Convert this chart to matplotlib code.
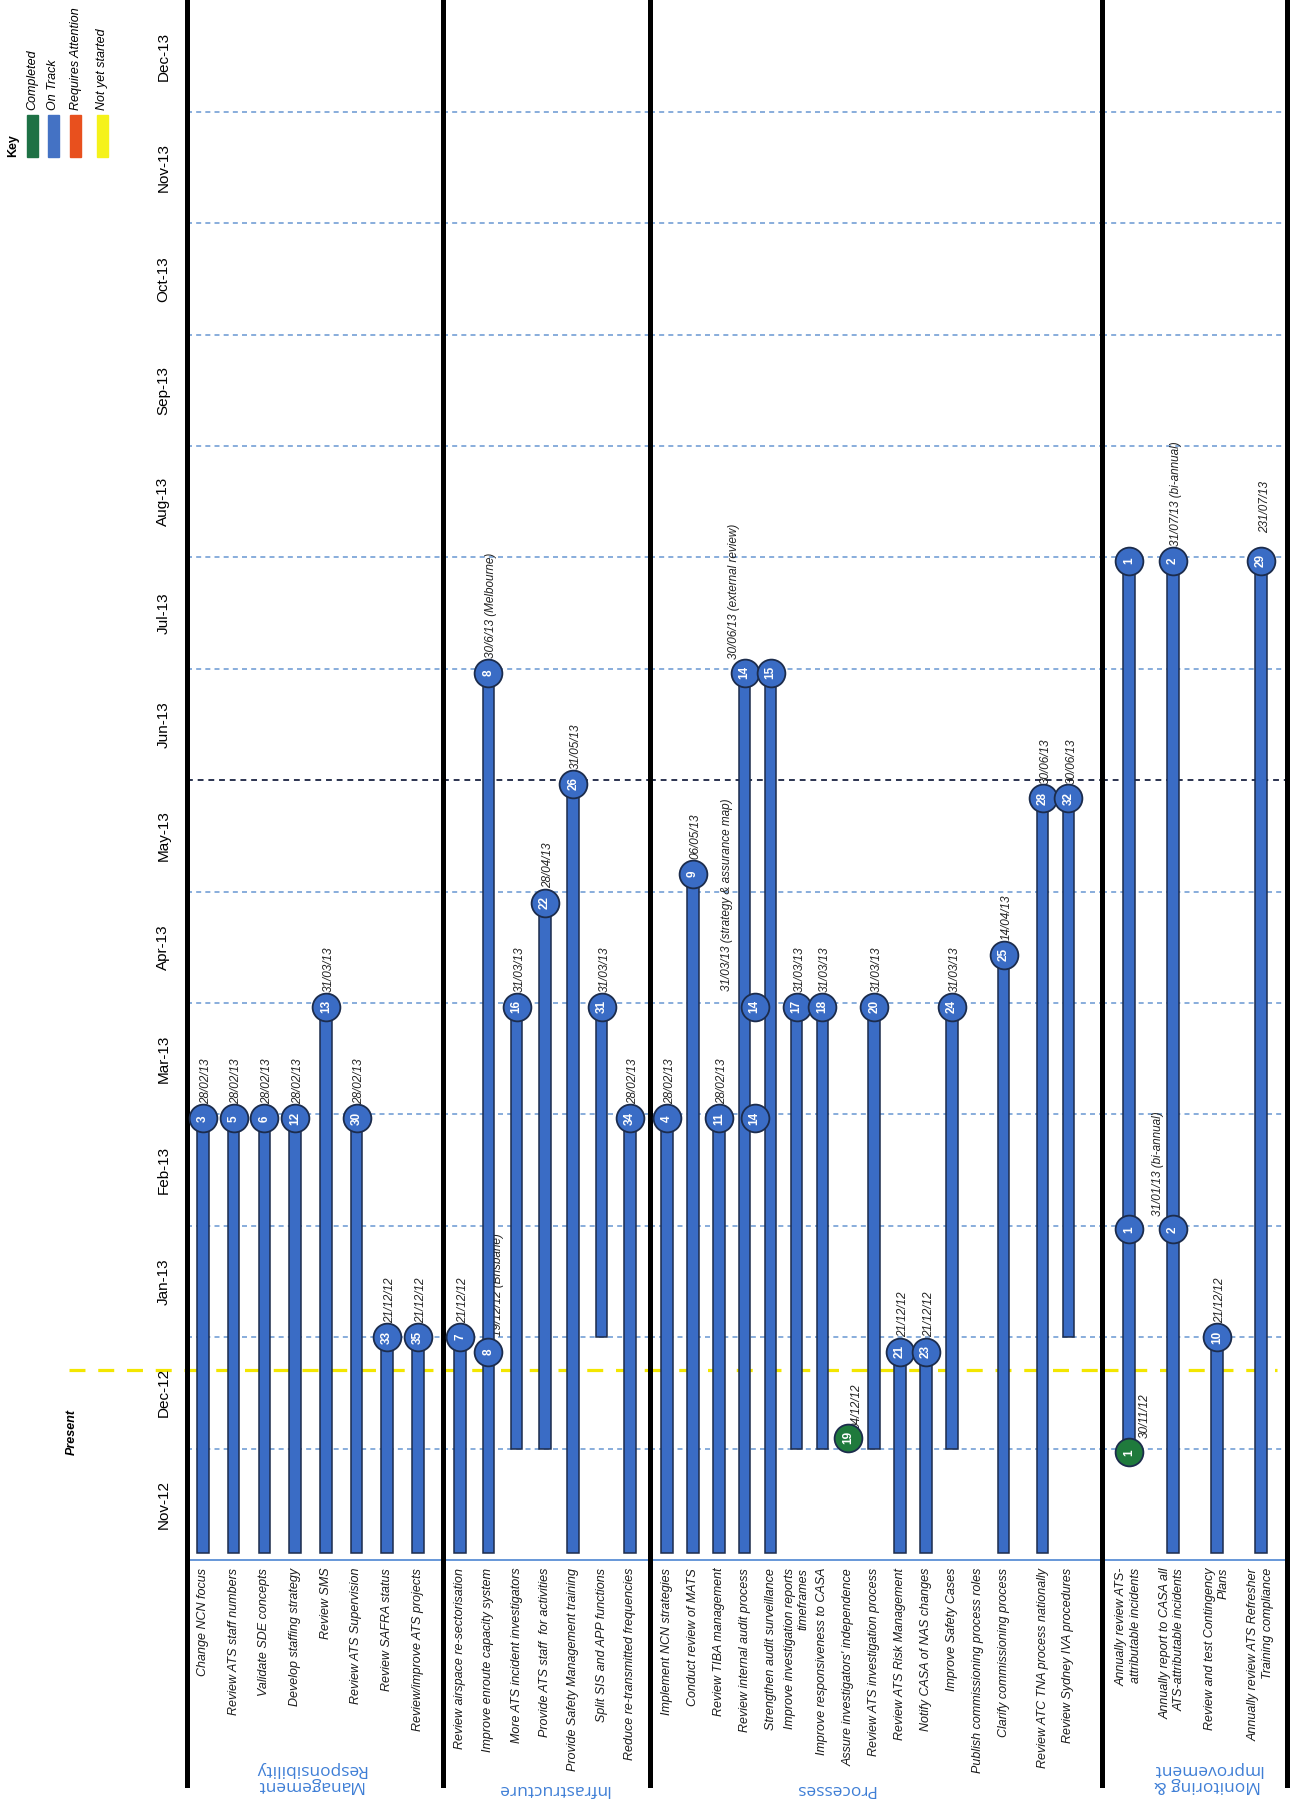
import calendar
import datetime as dt

import numpy as np
import matplotlib
matplotlib.use("Agg")
import matplotlib.pyplot as plt
from matplotlib.patches import Rectangle

plt.rcParams['font.family'] = ['Liberation Sans', 'DejaVu Sans']

W, H = 1298, 1805

MONTHS = ["Nov-12", "Dec-12", "Jan-13", "Feb-13", "Mar-13", "Apr-13", "May-13",
          "Jun-13", "Jul-13", "Aug-13", "Sep-13", "Oct-13", "Nov-13", "Dec-13"]

GROUPS = ["Management\nResponsibility", "Infrastructure", "Processes",
          "Monitoring &\nImprovement"]
GROUP_SIZES = [8, 7, 16, 4]

TASKS = [
    "Change NCN focus", "Review ATS staff numbers", "Validate SDE concepts",
    "Develop staffing strategy", "Review SMS", "Review ATS Supervision",
    "Review SAFRA status", "Review/improve ATS projects",
    "Review airspace re-sectorisation", "Improve enroute capacity system",
    "More ATS incident investigators", "Provide ATS staff  for activities",
    "Provide Safety Management training", "Split SIS and APP functions",
    "Reduce re-transmitted frequencies",
    "Implement NCN strategies", "Conduct review of MATS", "Review TIBA management",
    "Review internal audit process", "Strengthen audit surveillance",
    "Improve investigation reports\ntimeframes", "Improve responsiveness to CASA",
    "Assure investigators' independence", "Review ATS investigation process",
    "Review ATS Risk Management", "Notify CASA of NAS changes",
    "Improve Safety Cases", "Publish commissioning process roles",
    "Clarify commissioning process", "Review ATC TNA process nationally",
    "Review Sydney IVA procedures",
    "Annually review ATS-\nattributable incidents",
    "Annually report to CASA all\nATS-attributable incidents",
    "Review and test Contingency\nPlans",
    "Annually review ATS Refresher\nTraining compliance",
]

# bar start per task (None = milestone only / no bar)
STARTS = (["03/11/12"] * 8
          + ["03/11/12", "03/11/12", "01/12/12", "01/12/12", "03/11/12", "01/01/13", "03/11/12"]
          + ["03/11/12"] * 5
          + ["01/12/12", "01/12/12", None, "01/12/12", "03/11/12", "03/11/12", "01/12/12",
             None, "03/11/12", "03/11/12", "01/01/13"]
          + ["30/11/12", "03/11/12", "03/11/12", "03/11/12"])

# milestones
MK_TASK = [0, 1, 2, 3, 4, 5, 6, 7,
           8, 9, 9, 10, 11, 12, 13, 14,
           15, 16, 17, 18, 18, 18, 19, 20, 21, 22, 23, 24, 25, 26, 28, 29, 30,
           31, 31, 31, 32, 32, 33, 34]
MK_NUM = [3, 5, 6, 12, 13, 30, 33, 35,
          7, 8, 8, 16, 22, 26, 31, 34,
          4, 9, 11, 14, 14, 14, 15, 17, 18, 19, 20, 21, 23, 24, 25, 28, 32,
          1, 1, 1, 2, 2, 10, 29]
MK_DATE = ["28/02/13", "28/02/13", "28/02/13", "28/02/13", "31/03/13", "28/02/13", "01/01/13", "01/01/13",
           "01/01/13", "28/12/12", "30/06/13", "31/03/13", "28/04/13", "31/05/13", "31/03/13", "28/02/13",
           "28/02/13", "06/05/13", "28/02/13", "28/02/13", "31/03/13", "30/06/13", "30/06/13", "31/03/13",
           "31/03/13", "04/12/12", "31/03/13", "28/12/12", "28/12/12", "31/03/13", "14/04/13", "27/05/13",
           "27/05/13",
           "30/11/12", "31/01/13", "31/07/13", "31/01/13", "31/07/13", "01/01/13", "31/07/13"]
MK_STATUS = ["on"] * 40
MK_STATUS[25] = "done"
MK_STATUS[33] = "done"
MK_NOTE = ["28/02/13", "28/02/13", "28/02/13", "28/02/13", "31/03/13", "28/02/13", "21/12/12", "21/12/12",
           "21/12/12", "19/12/12 (Brisbane)", "30/6/13 (Melbourne)", "31/03/13", "28/04/13", "31/05/13",
           "31/03/13", "28/02/13",
           "28/02/13", "06/05/13", "28/02/13", "", "31/03/13 (strategy & assurance map)",
           "30/06/13 (external review)", "", "31/03/13", "31/03/13", "04/12/12", "31/03/13", "21/12/12",
           "21/12/12", "31/03/13", "14/04/13", "30/06/13", "30/06/13",
           "30/11/12", "", "", "31/01/13 (bi-annual)", "31/07/13 (bi-annual)", "21/12/12", "231/07/13"]

PRESENT = "23/12/12"

KEY_LABELS = ["Completed", "On Track", "Requires Attention", "Not yet started"]
KEY_COLORS = ["#1e7145", "#4472c4", "#e8501e", "#f5f21a"]
STATUS_COLOR = {"done": "#1f7a3c", "on": "#3a6cc5"}

BLUE = "#3a6cc5"
NAVY = "#1c2c4c"
GRID = "#74a0d6"
TITLE = "#3f7fd6"

# label offsets (points) for notes that sit beside their bar
NOTE_NUDGE = {"19/12/12 (Brisbane)": (7, 11), "31/03/13 (strategy & assurance map)": (-20, 11),
              "30/06/13 (external review)": (-8, 10), "30/11/12": (11, 10),
              "31/01/13 (bi-annual)": (-11, 10), "231/07/13": (3, 20), "04/12/12": (6, 6)}
# interim milestones drawn beside the bar (pixels)
MARKER_SHIFT = {19: 10, 20: 10}


def month_pos(s):
    """dd/mm/yy -> months since 1 Nov 2012"""
    d = dt.datetime.strptime(s, "%d/%m/%y")
    k = (d.year - 2012) * 12 + d.month - 11
    return k + (d.day - 1) / calendar.monthrange(d.year, d.month)[1]


def fx(px):
    return px / W


def fy(py):
    return 1 - py / H


fig = plt.figure(figsize=(W / 100, H / 100), dpi=100)
fig.patch.set_facecolor("white")

edges = [187, 443, 650, 1102, 1287]
first_px = [203, 460, 667, 1129]
step_px = [30.7, 28.3, 25.9, 44.0]
title_x = [0.48, 0.53, 0.41, 0.57]
title_y = [-1.95, -2.06, -2.06, -1.95]
y_base, y_bot, px_month = 1560, 1785, 111.4
ylim = (-(y_bot - y_base) / px_month, y_base / px_month)
present = month_pos(PRESENT)

t0 = 0
for g, n in enumerate(GROUP_SIZES):
    ax = fig.add_axes([fx(edges[g]), fy(y_bot), (edges[g + 1] - edges[g]) / W, y_bot / H])
    ax.patch.set_alpha(0)
    step = step_px[g]
    ax.set_xlim((edges[g] - first_px[g]) / step, (edges[g + 1] - first_px[g]) / step)
    ax.set_ylim(*ylim)
    ax.set_xticks([])
    for s in ("top", "bottom", "right"):
        ax.spines[s].set_visible(False)
    ax.spines["left"].set_linewidth(3.6)
    ax.spines["left"].set_color("black")
    if g == len(GROUP_SIZES) - 1:
        ax.spines["right"].set_visible(True)
        ax.spines["right"].set_linewidth(3.6)
        ax.spines["right"].set_color("black")
    if g == 0:
        ax.set_yticks(np.arange(len(MONTHS)) + 0.5)
        ax.set_yticklabels(MONTHS, rotation=90, va="center", fontsize=11)
        ax.tick_params(axis="y", length=0, pad=12)
        # "Present" marker extends into the left margin
        ax.plot([(69 - 187) / 256, 0], [present, present], transform=ax.get_yaxis_transform(),
                clip_on=False, color="#f3e600", lw=2.3, dashes=(5, 4), zorder=1.5)
    else:
        ax.set_yticks([])

    # month grid
    for k in range(1, len(MONTHS)):
        if k == 7:
            ax.axhline(k, color="#2b3350", lw=1.4, dashes=(3, 2.5), zorder=1)
        else:
            ax.axhline(k, color=GRID, lw=1.2, dashes=(3, 2.5), zorder=1)
    ax.axhline(0, color="#5b8fd6", lw=1.3, zorder=1)
    ax.axhline(present, xmax=0.946 if g == 3 else 1, color="#f3e600", lw=2.3,
               dashes=(5, 4), zorder=1.5)

    xs = np.arange(n, dtype=float)
    if g == 2:
        xs[14:] += 0.5
    bar_w = 11.5 / step

    for i in range(n):
        t = t0 + i
        x = xs[i]
        idx = [j for j, tt in enumerate(MK_TASK) if tt == t]
        if STARTS[t] is not None and idx:
            y0 = month_pos(STARTS[t])
            y1 = max(month_pos(MK_DATE[j]) for j in idx)
            ax.bar(x, y1 - y0, bottom=y0, width=bar_w, color=BLUE, edgecolor=NAVY,
                   linewidth=1.1, zorder=3)
        for j in idx:
            y = month_pos(MK_DATE[j])
            xm = x + MARKER_SHIFT.get(j, 0) / step
            ax.scatter([xm], [y], s=400, color=STATUS_COLOR[MK_STATUS[j]], edgecolors=NAVY,
                       linewidths=1.3, zorder=4)
            ax.text(xm, y, str(MK_NUM[j]), rotation=90, ha="center", va="center", color="white",
                    fontsize=8.5, fontweight="bold", zorder=5)
            if MK_NOTE[j]:
                dx, dy = NOTE_NUDGE.get(MK_NOTE[j], (2, 10.5))
                ax.annotate(MK_NOTE[j], (xm, y), xytext=(dx, dy), textcoords="offset points",
                            rotation=90, ha="center", va="bottom", fontsize=8.5,
                            style="italic", color="#222222", zorder=2.9)
        ax.text(x, -0.07, TASKS[t], rotation=90, ha="center", va="top", fontsize=9,
                style="italic", multialignment="right", color="#1a1a1a")

    ax.text(title_x[g], title_y[g], GROUPS[g], transform=ax.get_yaxis_transform(),
            rotation=180, ha="center", va="center", fontsize=12.5, color=TITLE,
            family=["Open Sans", "DejaVu Sans"], multialignment="center", linespacing=1.0)
    t0 += n

# key
fig.text(fx(13), fy(146), "Key", rotation=90, ha="center", va="center", fontsize=9,
         fontweight="bold")
for k, (lab, col) in enumerate(zip(KEY_LABELS, KEY_COLORS)):
    x0 = [27, 48, 70, 97][k]
    fig.add_artist(Rectangle((fx(x0), fy(157)), 11 / W, 42 / H, transform=fig.transFigure,
                             color=col))
    fig.text(fx(x0 + 5.5), fy(110), lab, rotation=90, ha="center", va="bottom", fontsize=9,
             style="italic")

fig.text(fx(72), fy(1432), "Present", rotation=90, ha="center", va="center", fontsize=9,
         fontweight="bold", style="italic")

fig.savefig("out.png", dpi=100, facecolor="white")
